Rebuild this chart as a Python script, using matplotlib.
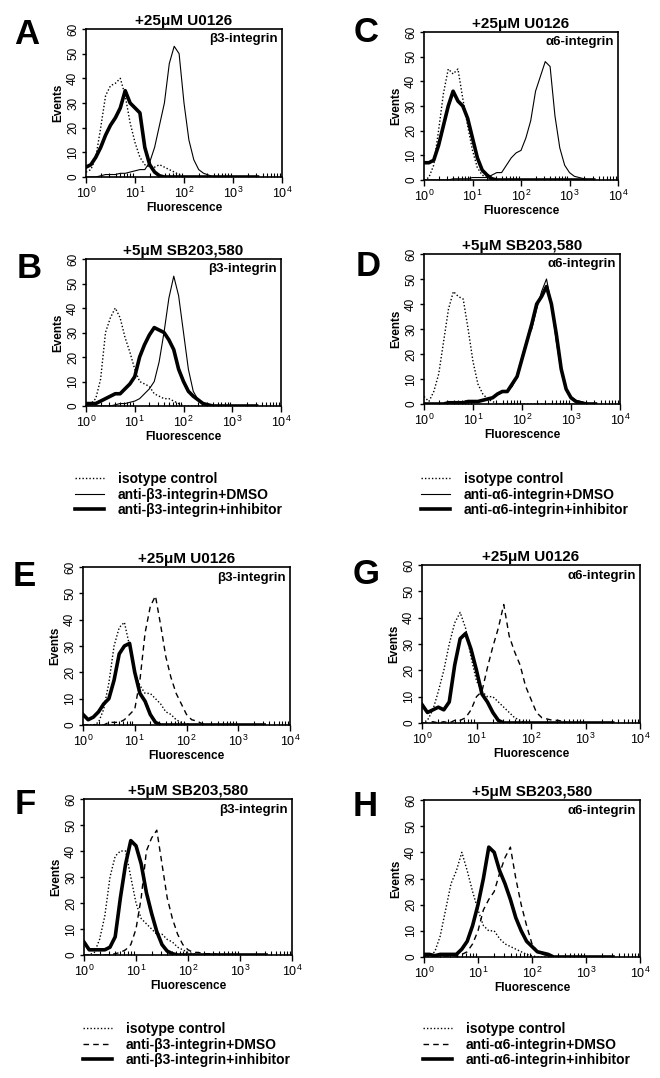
import numpy as np
import matplotlib
matplotlib.use('Agg')
import matplotlib.pyplot as plt
from matplotlib.lines import Line2D

plt.rcParams['font.family'] = ['Liberation Sans', 'DejaVu Sans']
plt.rcParams['mathtext.fontset'] = 'custom'
plt.rcParams['mathtext.rm'] = 'Liberation Sans'
plt.rcParams['mathtext.bf'] = 'Liberation Sans:bold'

# log10 fluorescence channels (decades)
decades = [0.0, 0.1, 0.2, 0.3, 0.4, 0.5, 0.6, 0.7, 0.8, 0.9,
           1.0, 1.1, 1.2, 1.3, 1.4, 1.5, 1.6, 1.7, 1.8, 1.9,
           2.0, 2.1, 2.2, 2.3, 2.4, 2.5, 2.6, 2.7, 2.8, 2.9,
           3.0, 3.1, 3.2, 3.3, 3.4, 3.5]

# events per channel (trailing zeros left out)
a_iso = [2, 3, 8, 20, 33, 37, 38, 40, 33, 22, 14, 8, 5, 4, 4, 5, 4, 3, 2, 1]
a_dmso = [0, 0, 0, 0.5, 1, 1, 1, 1.5, 1.5, 2, 2.5, 3, 3, 6, 12, 21, 30, 46, 53, 50,
          30, 15, 7, 3, 1.5, 0.8]
a_inh = [4, 5, 8, 12, 17, 21, 24, 28, 35, 30, 28, 26, 12, 5, 2, 0.5]

b_iso = [0, 1, 3, 11, 30, 36, 40, 36, 28, 22, 15, 10, 9, 8, 5, 4, 3, 3, 2, 1]
b_dmso = [0, 0, 0, 0, 0, 0, 0.5, 1, 1, 1.5, 2, 3, 5, 7, 10, 18, 30, 44, 53, 45,
          30, 15, 6, 2.5, 1, 0.5]
b_inh = [1, 1, 1, 2, 3, 4, 5, 5, 7, 9, 12, 20, 25, 29, 32, 31, 30, 27, 23, 15,
         10, 6, 4, 2.5, 1, 0.5]

c_iso = [0, 1, 6, 20, 35, 45, 43, 45, 33, 22, 12, 5, 2, 1]
c_dmso = [0, 0, 0, 0, 0, 0, 0.5, 0.5, 0.5, 0.5, 1, 1, 1, 1, 2, 3, 3, 6, 9, 11,
          12, 17, 24, 36, 42, 48, 46, 26, 13, 6, 3, 1.5, 1, 0.5]
c_inh = [7, 7, 8, 14, 22, 30, 36, 32, 30, 25, 17, 9, 4, 2, 0.5]

d_iso = [3, 1, 5, 12, 25, 38, 45, 43, 42, 30, 17, 8, 4, 2, 1]
d_dmso = [0, 0, 0, 0, 0, 0.5, 0.5, 0.5, 0.5, 1, 1, 1, 1.5, 2, 2.5, 4, 5, 5, 7, 11,
          19, 26, 30, 38, 45, 50, 40, 25, 13, 6, 3, 1.5, 1, 0.5]
d_inh = [0, 0, 0, 0, 0, 0.5, 0.5, 0.5, 0.5, 1, 1, 1, 1.5, 2, 2.5, 4, 5, 5, 8, 11,
         18, 25, 32, 40, 43, 47, 40, 28, 14, 6, 2.5, 1, 0.5]

e_iso = [0, 0, 0, 1, 6, 16, 30, 37, 39, 30, 20, 15, 12, 12, 10, 8, 5, 4, 2, 1, 0.5]
e_dmso = [0, 0, 0, 0, 0, 1, 1, 1, 2, 4, 6, 17, 35, 45, 49, 38, 26, 18, 12, 8,
          4, 2, 1.5, 0.5]
e_inh = [4, 2, 3, 5, 8, 10, 17, 27, 30, 31, 20, 12, 9, 4, 1]

f_iso = [0, 0, 1, 6, 15, 30, 38, 40, 40, 30, 20, 14, 12, 10, 8, 8, 6, 5, 3, 2, 1, 0.5]
f_dmso = [0, 0, 0, 0, 0, 0, 0.5, 1, 2, 4, 10, 22, 40, 45, 48, 35, 22, 14, 8, 4,
          2, 1, 1, 0.5, 0.5, 0.5]
f_inh = [5, 2, 2, 2, 2, 3, 7, 22, 35, 44, 42, 35, 24, 16, 9, 4, 1.5, 0.5]

g_iso = [0, 1, 5, 12, 20, 30, 38, 42, 36, 25, 16, 12, 10, 10, 8, 6, 4, 2, 1]
g_dmso = [0, 0, 0.5, 0, 0.5, 0, 1, 1, 2, 5, 10, 12, 21, 29, 36, 45, 33, 27, 22, 14,
          9, 4, 2, 1.5, 1, 1, 0.5]
g_inh = [7, 4, 5, 6, 5, 8, 22, 32, 34, 28, 20, 11, 8, 4, 1]

h_iso = [0, 0.5, 2, 8, 18, 28, 33, 40, 33, 25, 18, 12, 10, 10, 7, 5, 4, 3, 2, 1, 0.5]
h_dmso = [0, 0, 0, 0, 0, 0, 0, 1, 2, 5, 10, 18, 22, 25, 32, 38, 42, 30, 20, 12,
          5, 2, 1, 0.5]
h_inh = [1, 1, 0.5, 1, 1, 1, 1, 3, 6, 12, 20, 30, 42, 40, 33, 28, 22, 15, 10, 6,
         4, 2, 1.5, 1]

titles = ['+25\u03bcM U0126', '+5\u03bcM SB203,580']
markers = ['\u03b23-integrin', '\u03b16-integrin']

W, H = 660, 1078
fig = plt.figure(figsize=(W / 100, H / 100), dpi=100)


def box(l, t, r, b):
    return [l / W, 1 - b / H, (r - l) / W, (b - t) / H]


def pad(vals):
    return np.array(vals + [0] * (len(decades) - len(vals)), dtype=float)


x = 10 ** np.array(decades)

# letter, title, marker, series, axes box (px), letter pos (px), dashed DMSO
panels = [
    ('A', titles[0], markers[0], (a_iso, a_dmso, a_inh), (86, 29, 282, 177), (27, 34), False),
    ('B', titles[1], markers[0], (b_iso, b_dmso, b_inh), (86, 259, 281, 406), (29, 268), False),
    ('C', titles[0], markers[1], (c_iso, c_dmso, c_inh), (424, 32, 618, 180), (366, 32), False),
    ('D', titles[1], markers[1], (d_iso, d_dmso, d_inh), (424, 254, 620, 404), (368, 267), False),
    ('E', titles[0], markers[0], (e_iso, e_dmso, e_inh), (83, 567, 290, 725), (24, 576), True),
    ('F', titles[1], markers[0], (f_iso, f_dmso, f_inh), (84, 799, 292, 955), (25, 805), True),
    ('G', titles[0], markers[1], (g_iso, g_dmso, g_inh), (422, 565, 640, 723), (366, 574), True),
    ('H', titles[1], markers[1], (h_iso, h_dmso, h_inh), (424, 800, 640, 957), (365, 807), True),
]

iso_style = dict(color='black', lw=1.0, linestyle=(0, (1, 1.5)))
dmso_solid = dict(color='black', lw=0.8, linestyle='-')
dmso_dash = dict(color='black', lw=1.0, linestyle=(0, (4, 3)))
inh_style = dict(color='black', lw=2.6, linestyle='-')

for letter, title, marker, series, bx, lpos, dashed in panels:
    ax = fig.add_axes(box(*bx))
    iso, dmso, inh = series
    ax.plot(x, pad(iso), **iso_style)
    ax.plot(x, pad(dmso), **(dmso_dash if dashed else dmso_solid))
    ax.plot(x, pad(inh), **inh_style)

    ax.set_xscale('log')
    ax.set_xlim(1, 1e4)
    ax.set_ylim(0, 60)
    ax.set_yticks(range(0, 61, 10))
    ax.tick_params(axis='x', which='major', direction='out', length=4, width=1,
                   labelsize=9, pad=2)
    ax.tick_params(axis='x', which='minor', direction='in', length=3, width=0.8)
    ax.tick_params(axis='y', direction='out', length=3, width=1, labelsize=8.5, pad=2)
    for lab in ax.get_yticklabels():
        lab.set_rotation(90)
        lab.set_va('center')
    for s in ax.spines.values():
        s.set_linewidth(1.2)

    ax.set_xlabel('Fluorescence', fontsize=8.5, fontweight='bold', labelpad=1)
    ax.set_ylabel('Events', fontsize=8.5, fontweight='bold', labelpad=2)
    ax.set_title(title, fontsize=11, fontweight='bold', pad=3)
    ax.text(0.98, 0.97, marker, transform=ax.transAxes, ha='right', va='top',
            fontsize=9.5, fontweight='bold')
    fig.text(lpos[0] / W, 1 - lpos[1] / H, letter, fontsize=25, fontweight='bold',
             ha='center', va='center')


def legend(x0, y0, target, dashed):
    handles = [Line2D([], [], **iso_style),
               Line2D([], [], **(dmso_dash if dashed else dmso_solid)),
               Line2D([], [], **inh_style)]
    labels = ['isotype control', 'anti-%s+DMSO' % target, 'anti-%s+inhibitor' % target]
    fig.legend(handles, labels, loc='upper left', bbox_to_anchor=(x0 / W, 1 - y0 / H),
               frameon=False, handlelength=2.1, handletextpad=1.0, labelspacing=0.12,
               borderpad=0, borderaxespad=0,
               prop=dict(size=10, weight='bold'))


legend(75, 472, markers[0], False)
legend(421, 472, markers[1], False)
legend(83, 1022, markers[0], True)
legend(423, 1022, markers[1], True)

fig.savefig('out.png', dpi=100)
